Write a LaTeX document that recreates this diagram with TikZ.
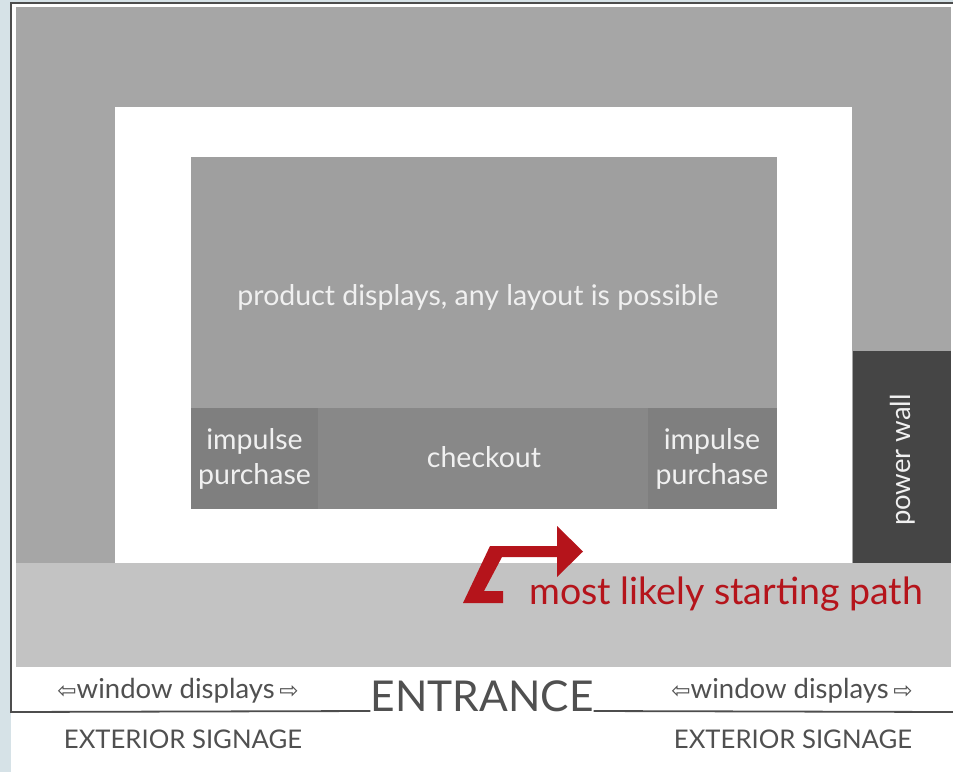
\documentclass[tikz,border=0pt]{standalone}
\usepackage{fontspec}
\setmainfont{Lato}
\newfontfamily\symfont{DejaVu Sans}
\definecolor{bgblue}{HTML}{D6E2E7}
\definecolor{outergray}{HTML}{A6A6A6}
\definecolor{prodgray}{HTML}{9F9F9F}
\definecolor{impgray}{HTML}{7F7F7F}
\definecolor{chkgray}{HTML}{888888}
\definecolor{walldark}{HTML}{454545}
\definecolor{bandgray}{HTML}{C3C3C3}
\definecolor{pathred}{HTML}{B5141B}
\definecolor{textgray}{HTML}{505050}
\definecolor{framegray}{HTML}{4D4D4D}
\tikzset{
  whitetext/.style={text=white!94!black, align=center, inner sep=0pt, font=\fontsize{28.5}{35}\selectfont},
  graytext/.style={text=textgray, inner sep=0pt, font=\fontsize{25.7}{28}\selectfont},
  wintext/.style={text=textgray, inner sep=0pt, font=\fontsize{27.5}{28}\selectfont},
}
\newcommand{\warrL}{{\symfont\fontsize{23}{20}\selectfont ⇦}}
\newcommand{\warrR}{{\symfont\fontsize{23}{20}\selectfont ⇨}}
\begin{document}
\begin{tikzpicture}[x=1pt,y=-1pt]
\useasboundingbox (0,0) rectangle (953,772);
\fill[bgblue] (0,0) rectangle (953,772);
\fill[white] (11,3) rectangle (953,772);
% store areas
\fill[outergray] (16,7) rectangle (951,563);
\fill[white] (115,107) rectangle (852,563);
\fill[prodgray] (191,157) rectangle (777,408);
\fill[impgray] (191,408) rectangle (318,509);
\fill[chkgray] (318,408) rectangle (648,509);
\fill[impgray] (648,408) rectangle (777,509);
\fill[walldark] (853,351) rectangle (951,563);
\fill[bandgray] (16,563) rectangle (951,667);
% frame
\draw[framegray, line width=2pt] (11,713) -- (11,3) -- (953,3);
% texts
\node[whitetext] (prod) at (478,297) {product displays, any layout is possible};
\node[whitetext] (impL) at (254.5,459) {impulse\\purchase};
\node[whitetext] (chk) at (484,457) {checkout};
\node[whitetext] (impR) at (712,459) {impulse\\purchase};
\node[whitetext, rotate=90, font=\fontsize{27.5}{28}\selectfont] (wall) at (903,460) {power wall};
% path arrow
\fill[pathred] (463,603) -- (490,546) -- (557,546) -- (557,526) -- (583,551.5) -- (557,577) -- (557,557) -- (502,557) -- (484,591) -- (503,591) -- (503,603) -- cycle;
\node[anchor=west, inner sep=0pt, text=pathred, font=\fontsize{37.5}{40}\selectfont] (path) at (529,594) {most likely starting path};
% entrance
\node[anchor=base, inner sep=0pt, text=textgray, font=\fontsize{42.5}{50}\selectfont] (ent) at (482,711) {ENTRANCE};
\draw[framegray, line width=1.8pt] (11,712) -- (ent.base west);
\draw[framegray, line width=1.8pt] (ent.base east) -- (953,712);
\node[wintext] (winL) at (178,691) {\warrL window displays\,\warrR};
\node[wintext] (winR) at (792,691) {\warrL window displays\,\warrR};
\node[graytext] (sigL) at (183,739) {EXTERIOR SIGNAGE};
\node[graytext] (sigR) at (793,739) {EXTERIOR SIGNAGE};
\end{tikzpicture}
\end{document}
